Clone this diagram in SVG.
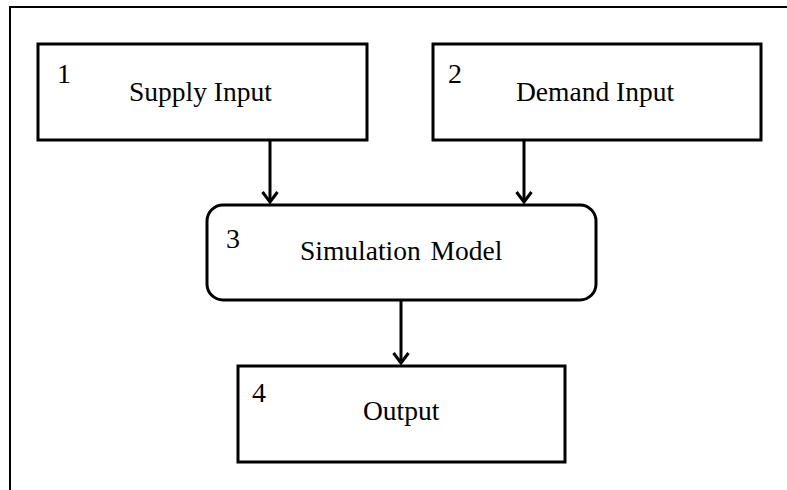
<svg xmlns="http://www.w3.org/2000/svg" width="787" height="490" viewBox="0 0 787 490">
  <style>
    .box { fill: #ffffff; stroke: #000000; stroke-width: 3; }
    .frame { stroke: #000000; stroke-width: 2; fill: none; }
    .label { font-family: "Liberation Serif", "Times New Roman", serif; font-size: 27.5px; fill: #000000; }
    .num { font-family: "Liberation Serif", "Times New Roman", serif; font-size: 28px; fill: #000000; }
    .conn { stroke: #000000; stroke-width: 3; fill: none; }
  </style>
  <defs>
    <marker id="arrow" viewBox="0 0 14 18" refX="12" refY="9" markerWidth="14" markerHeight="18" markerUnits="userSpaceOnUse" orient="auto">
      <path d="M2,1.5 L12,9 L2,16.5" fill="none" stroke="#000000" stroke-width="3"/>
    </marker>
  </defs>
  <rect width="787" height="490" fill="#ffffff"/>

  <!-- outer frame -->
  <path class="frame" d="M10,490 L10,7 L787,7"/>

  <g id="supply-input">
    <rect class="box" x="38" y="44" width="329" height="96"/>
    <text class="num" x="57" y="83">1</text>
    <text class="label" x="129" y="101">Supply Input</text>
  </g>

  <g id="demand-input">
    <rect class="box" x="433" y="44" width="328" height="96"/>
    <text class="num" x="448" y="83">2</text>
    <text class="label" x="516" y="101">Demand Input</text>
  </g>

  <g id="simulation-model">
    <rect class="box" x="207" y="205" width="389" height="95" rx="16" ry="16"/>
    <text class="num" x="226" y="248">3</text>
    <text class="label" x="300" y="260" word-spacing="3">Simulation Model</text>
  </g>

  <g id="output">
    <rect class="box" x="238" y="366" width="327" height="96"/>
    <text class="num" x="252" y="402">4</text>
    <text class="label" x="363" y="420">Output</text>
  </g>

  <g id="connectors">
    <line class="conn" x1="270" y1="140" x2="270" y2="202" marker-end="url(#arrow)"/>
    <line class="conn" x1="524" y1="140" x2="524" y2="202" marker-end="url(#arrow)"/>
    <line class="conn" x1="401" y1="300" x2="401" y2="363" marker-end="url(#arrow)"/>
  </g>
</svg>
